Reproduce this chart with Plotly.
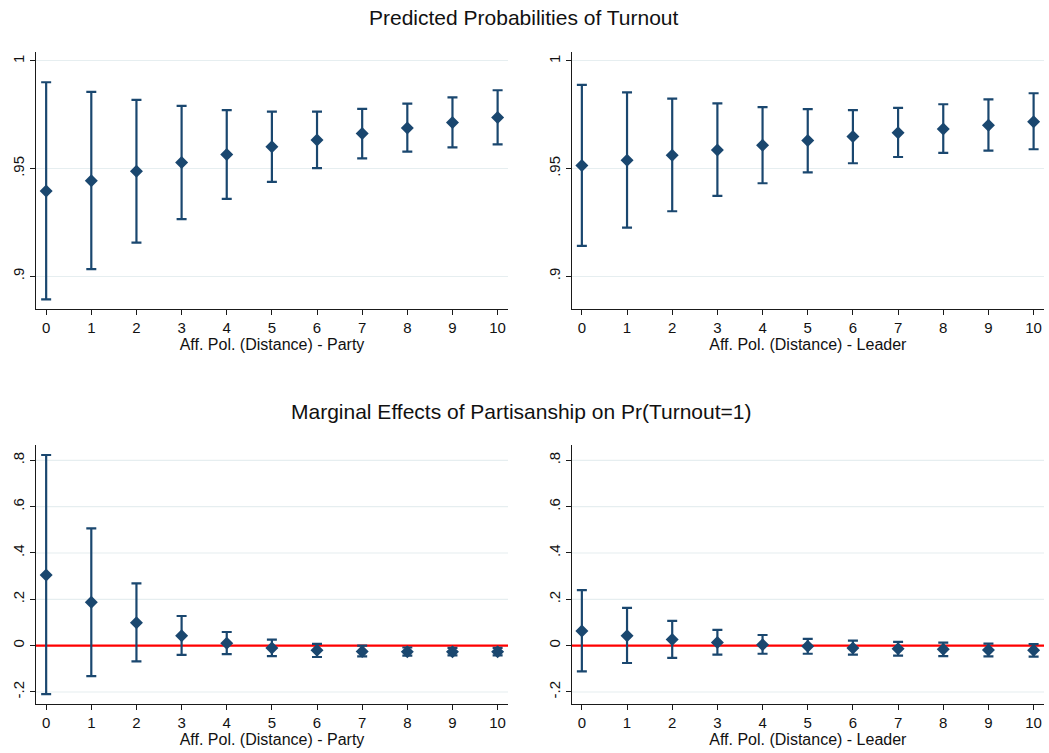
import plotly.graph_objects as go

# ---------------- data ----------------
x_vals = [0, 1, 2, 3, 4, 5, 6, 7, 8, 9, 10]
x_ticklabels = ["0", "1", "2", "3", "4", "5", "6", "7", "8", "9", "10"]

# Predicted probabilities - Party
pp_party_est = [0.9396, 0.9444, 0.9488, 0.9528, 0.9565, 0.9601, 0.9633, 0.9663, 0.9689, 0.9714, 0.9737]
pp_party_lo = [0.8893, 0.9033, 0.9156, 0.9265, 0.9359, 0.9438, 0.9502, 0.9548, 0.9579, 0.9599, 0.9613]
pp_party_hi = [0.9901, 0.9856, 0.9819, 0.9791, 0.9772, 0.9765, 0.9765, 0.9777, 0.9802, 0.9831, 0.9864]

# Predicted probabilities - Leader
pp_leader_est = [0.9514, 0.9539, 0.9562, 0.9587, 0.9608, 0.9630, 0.9649, 0.9666, 0.9684, 0.9701, 0.9718]
pp_leader_lo = [0.9141, 0.9226, 0.9302, 0.9373, 0.9432, 0.9483, 0.9525, 0.9554, 0.9573, 0.9584, 0.9590]
pp_leader_hi = [0.9889, 0.9854, 0.9825, 0.9803, 0.9786, 0.9776, 0.9772, 0.9782, 0.9799, 0.9822, 0.9850]

# Marginal effects - Party
me_party_est = [0.305, 0.187, 0.099, 0.043, 0.010, -0.010, -0.020, -0.025, -0.026, -0.026, -0.026]
me_party_lo = [-0.209, -0.132, -0.068, -0.040, -0.037, -0.045, -0.049, -0.046, -0.043, -0.042, -0.042]
me_party_hi = [0.823, 0.506, 0.269, 0.128, 0.059, 0.026, 0.008, 0.000, -0.008, -0.010, -0.010]

# Marginal effects - Leader
me_leader_est = [0.063, 0.043, 0.027, 0.014, 0.004, -0.003, -0.010, -0.013, -0.016, -0.019, -0.020]
me_leader_lo = [-0.111, -0.075, -0.053, -0.039, -0.035, -0.035, -0.039, -0.043, -0.045, -0.046, -0.047]
me_leader_hi = [0.240, 0.163, 0.107, 0.068, 0.046, 0.029, 0.022, 0.016, 0.013, 0.009, 0.007]

pp_ticks = [0.9, 0.95, 1.0]
pp_ticktext = [".9", ".95", "1"]
me_ticks = [-0.2, 0, 0.2, 0.4, 0.6, 0.8]
me_ticktext = ["-.2", "0", ".2", ".4", ".6", ".8"]
me_refline = 0

title_top = "Predicted Probabilities of Turnout"
title_bottom = "Marginal Effects of Partisanship on Pr(Turnout=1)"
xlab_party = "Aff. Pol. (Distance) - Party"
xlab_leader = "Aff. Pol. (Distance) - Leader"

# ---------------- styling ----------------
NAVY = "#1a476f"
GRID = "#e6eef0"
AXIS = "#1a1a1a"
FONT = "Liberation Sans, Arial, Helvetica, sans-serif"
W, H = 1049, 753

fig = go.Figure()

panels = [
    ("x", "y", pp_party_est, pp_party_lo, pp_party_hi),
    ("x2", "y2", pp_leader_est, pp_leader_lo, pp_leader_hi),
    ("x3", "y3", me_party_est, me_party_lo, me_party_hi),
    ("x4", "y4", me_leader_est, me_leader_lo, me_leader_hi),
]

for xa, ya, est, lo, hi in panels:
    fig.add_trace(go.Scatter(
        x=x_vals, y=est, xaxis=xa, yaxis=ya, mode="markers",
        marker=dict(symbol="diamond", size=10, color=NAVY, line=dict(width=0)),
        error_y=dict(type="data", symmetric=False,
                     array=[h - e for h, e in zip(hi, est)],
                     arrayminus=[e - l for e, l in zip(est, lo)],
                     color=NAVY, thickness=2.2, width=5),
        showlegend=False, hoverinfo="skip",
    ))

# marginal-effects panels: gridlines as background shapes, then red reference line
for xr_, yr_ in (("x3", "y3"), ("x4", "y4")):
    for tv in me_ticks:
        if tv == me_refline:
            continue
        fig.add_shape(type="line", xref=f"{xr_} domain", yref=yr_, x0=0, x1=1, y0=tv, y1=tv,
                      line=dict(color=GRID, width=1.2), layer="below")
    fig.add_shape(type="line", xref=f"{xr_} domain", yref=yr_, x0=0, x1=1,
                  y0=me_refline, y1=me_refline,
                  line=dict(color="#ff0000", width=2.4), layer="below")

def px_x(a, b):
    return [a / W, b / W]

def px_y(top, bottom):
    return [1 - bottom / H, 1 - top / H]

dom_left = px_x(36, 508)
dom_right = px_x(571.7, 1044)
dom_top = px_y(51.7, 309)
dom_bot = px_y(445, 704.3)

xr = [-0.225, 10.23]

def xaxis(domain, anchor, title):
    return dict(domain=domain, anchor=anchor, range=xr, tickmode="array",
                tickvals=x_vals, ticktext=x_ticklabels,
                showline=True, linecolor=AXIS, linewidth=1.3,
                ticks="outside", ticklen=5, tickwidth=1.2, tickcolor=AXIS,
                showgrid=False, zeroline=False,
                tickfont=dict(family=FONT, size=15, color="#111"),
                title=dict(text=title, font=dict(family=FONT, size=16, color="#111"), standoff=2))

def yaxis(domain, anchor, rng, tv, tt, grid):
    return dict(domain=domain, anchor=anchor, range=rng, tickmode="array",
                tickvals=tv, ticktext=tt, tickangle=-90,
                showline=True, linecolor=AXIS, linewidth=1.3,
                ticks="outside", ticklen=5, tickwidth=1.2, tickcolor=AXIS,
                showgrid=grid, gridcolor=GRID, gridwidth=1.2, zeroline=False,
                tickfont=dict(family=FONT, size=15, color="#111"))

pp_range = [0.8848, 1.0043]
me_range = [-0.2532, 0.8662]

fig.update_layout(
    width=W, height=H,
    margin=dict(l=0, r=0, t=0, b=0),
    paper_bgcolor="white", plot_bgcolor="white",
    font=dict(family=FONT, color="#111"),
    xaxis=xaxis(dom_left, "y", xlab_party),
    xaxis2=xaxis(dom_right, "y2", xlab_leader),
    xaxis3=xaxis(dom_left, "y3", xlab_party),
    xaxis4=xaxis(dom_right, "y4", xlab_leader),
    yaxis=yaxis(dom_top, "x", pp_range, pp_ticks, pp_ticktext, True),
    yaxis2=yaxis(dom_top, "x2", pp_range, pp_ticks, pp_ticktext, True),
    yaxis3=yaxis(dom_bot, "x3", me_range, me_ticks, me_ticktext, False),
    yaxis4=yaxis(dom_bot, "x4", me_range, me_ticks, me_ticktext, False),
    annotations=[
        dict(text=title_top, x=524 / W, y=1 - 18 / H, xref="paper", yref="paper",
             showarrow=False, xanchor="center", yanchor="middle",
             font=dict(family=FONT, size=21, color="#111")),
        dict(text=title_bottom, x=520.5 / W, y=1 - 412 / H, xref="paper", yref="paper",
             showarrow=False, xanchor="center", yanchor="middle",
             font=dict(family=FONT, size=21, color="#111")),
    ],
)

fig.write_html("out.html")
